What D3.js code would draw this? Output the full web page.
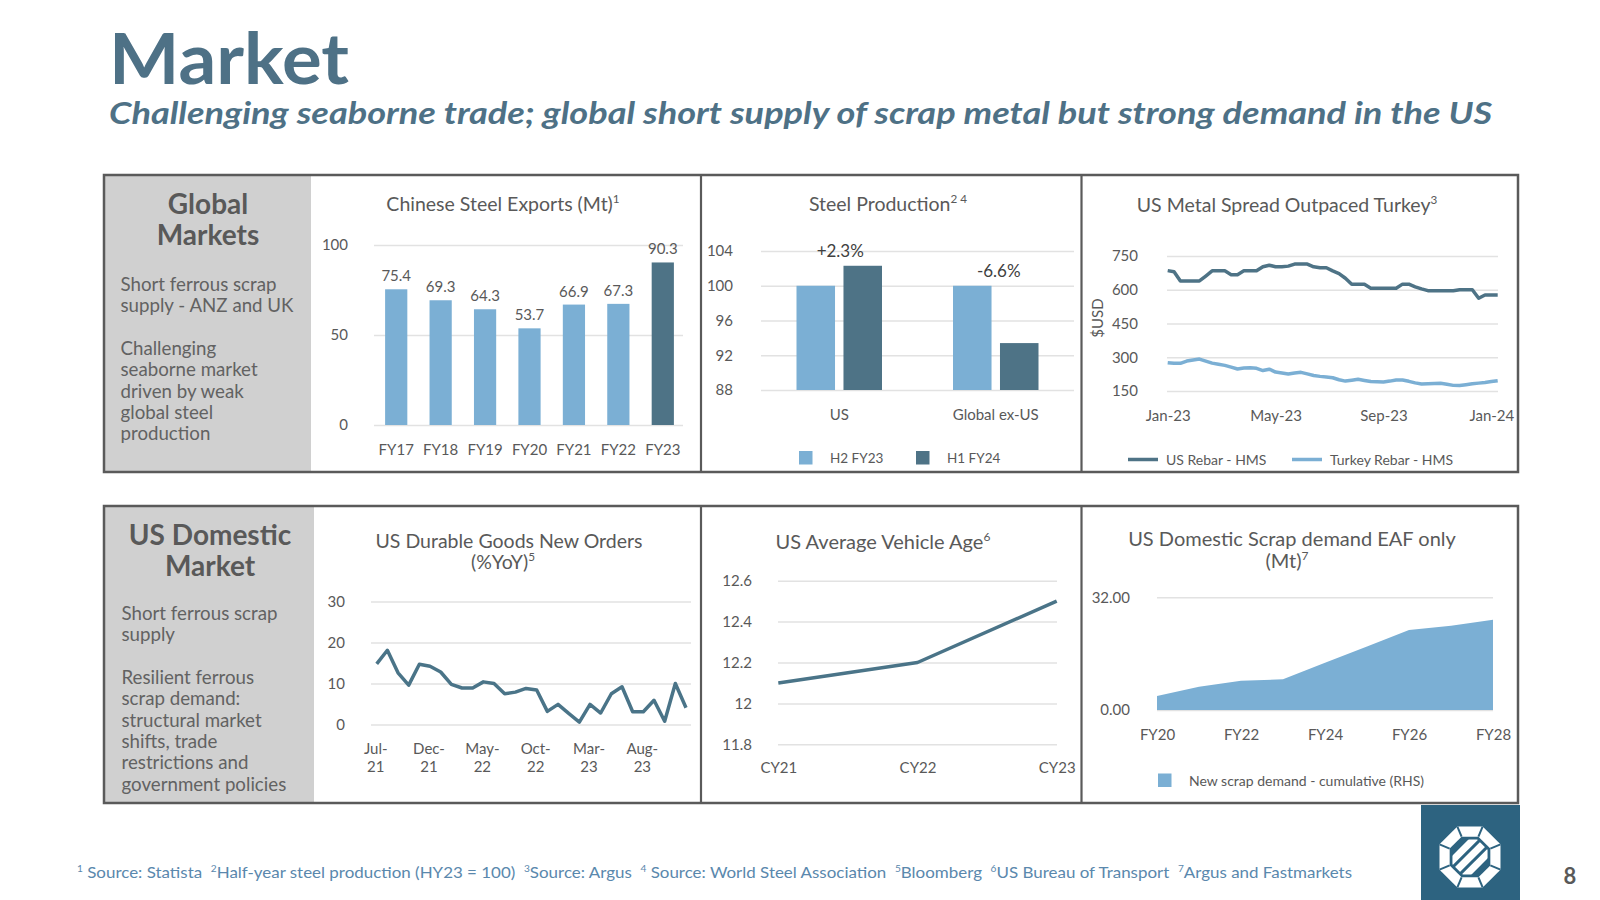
<!DOCTYPE html>
<html><head><meta charset="utf-8">
<script src="https://cdn.jsdelivr.net/npm/d3@7"></script>
<style>
body{margin:0;background:#fff;}
svg{display:block;font-family:Lato,'Open Sans',sans-serif;}
</style></head><body>
<svg id="c" width="1600" height="900"></svg>
<script>
// ---------------- DATA ----------------
const exportYears = ["FY17","FY18","FY19","FY20","FY21","FY22","FY23"];
const exportValues = [75.4,69.3,64.3,53.7,66.9,67.3,90.3];
const exportTicks = [0,50,100];

const prodCategories = ["US","Global ex-US"];
const prodSeries = ["H2 FY23","H1 FY24"];
const prodH2FY23 = [100,100];
const prodH1FY24 = [102.3,93.4];
const prodChange = ["+2.3%","-6.6%"];
const prodTicks = [88,92,96,100,104];

const spreadUS = [685,680,639,639,639,639,661,684,684,684,667,667,684,684,684,702,709,702,702,705,714,714,714,702,698,698,684,672,651,624,624,624,607,607,607,607,607,625,625,613,604,596,596,596,596,596,600,600,600,562,577,577,577];
const spreadTurkey = [276,273,273,283,288,292,283,274,269,264,256,248,252,253,251,241,247,234,230,226,230,233,226,219,215,212,209,200,194,198,202,197,192,191,190,194,199,199,193,186,181,182,183,184,180,175,174,178,182,185,188,192,196];
const spreadTickLabels = ["Jan-23","May-23","Sep-23","Jan-24"];
const spreadTickWeeks = [0,17,34,51];
const spreadTicks = [150,300,450,600,750];
const spreadSeries = ["US Rebar - HMS","Turkey Rebar - HMS"];

const durableMonths = ["Jul-21","Aug-21","Sep-21","Oct-21","Nov-21","Dec-21","Jan-22","Feb-22","Mar-22","Apr-22","May-22","Jun-22","Jul-22","Aug-22","Sep-22","Oct-22","Nov-22","Dec-22","Jan-23","Feb-23","Mar-23","Apr-23","May-23","Jun-23","Jul-23","Aug-23","Sep-23","Oct-23","Nov-23","Dec-23"];
const durableValues = [14.8,18.1,12.6,9.6,14.7,14.2,12.8,9.8,8.9,8.9,10.4,10.0,7.5,7.9,8.8,8.4,3.2,4.9,2.7,0.6,4.9,2.8,7.5,9.2,3.1,3.1,5.9,0.8,10.0,4.1];
const durableTickMonths = ["Jul-21","Dec-21","May-22","Oct-22","Mar-23","Aug-23"];
const durableTicks = [0,10,20,30];

const vehicleYears = ["CY21","CY22","CY23"];
const vehicleAge = [12.1,12.2,12.5];
const vehicleTicks = [11.8,12,12.2,12.4,12.6];

const scrapYears = ["FY20","FY21","FY22","FY23","FY24","FY25","FY26","FY27","FY28"];
const scrapDemand = [4.0,6.6,8.3,8.7,13.4,18.0,22.7,23.9,25.6];
const scrapTickYears = ["FY20","FY22","FY24","FY26","FY28"];
const scrapTicks = [0,32];
const scrapSeries = "New scrap demand - cumulative (RHS)";

const globalHeading = ["Global","Markets"];
const globalBody = [["Short ferrous scrap","supply - ANZ and UK"],["Challenging","seaborne market","driven by weak","global steel","production"]];
const usHeading = ["US Domestic","Market"];
const usBody = [["Short ferrous scrap","supply"],["Resilient ferrous","scrap demand:","structural market","shifts, trade","restrictions and","government policies"]];

const footnotes = [["1"," Source: Statista  "],["2","Half-year steel production (HY23 = 100)  "],["3","Source: Argus  "],["4"," Source: World Steel Association  "],["5","Bloomberg  "],["6","US Bureau of Transport  "],["7","Argus and Fastmarkets"]];

// ---------------- STYLE ----------------
const FONT = "Lato,'Open Sans',sans-serif";
const TXT = "#595959", GRID = "#e2e2e2", LIGHT = "#7bafd4", DARK = "#4e7386", LINEC = "#4a7488", BLUE = "#4e7186";
const TITLE_SIZE = 19.5;
const svg = d3.select("#c");

function rich(sel, parts, size){
  let shift = 0;
  parts.forEach(p=>{
    const sup = typeof p !== "string";
    const ts = sel.append("tspan").text(sup ? p.s : p);
    const target = sup ? -size*0.4 : 0;
    if (target !== shift){ ts.attr("dy", target - shift); shift = target; }
    if (sup) ts.attr("font-size", size*0.6);
  });
}
function title(x, y, parts, size=TITLE_SIZE){
  const t = svg.append("text").attr("x",x).attr("y",y).attr("text-anchor","middle")
    .attr("font-size",size).attr("fill",TXT);
  rich(t, parts, size);
}
function yGrid(scale, ticks, x0, x1, labelRight, fmt){
  const g = svg.append("g").attr("transform",`translate(${x0},0)`)
    .call(d3.axisLeft(scale).tickValues(ticks).tickSize(-(x1-x0)).tickPadding(x0-labelRight).tickFormat(fmt));
  g.select(".domain").remove();
  g.selectAll("line").attr("stroke",GRID).attr("stroke-width",1.5);
  g.selectAll("text").attr("fill",TXT).attr("font-size",15).attr("font-family",FONT);
  return g;
}
function xAxis(scale, y, baseline, tickValues, fmt){
  const ax = d3.axisBottom(scale).tickSize(0).tickPadding(baseline - y - 10.65);
  if (tickValues) ax.tickValues(tickValues);
  if (fmt) ax.tickFormat(fmt);
  const g = svg.append("g").attr("transform",`translate(0,${y})`).call(ax);
  g.select(".domain").remove();
  g.selectAll("text").attr("fill",TXT).attr("font-size",15).attr("font-family",FONT);
  return g;
}

// ---------------- HEADER ----------------
svg.append("text").attr("x",109).attr("y",84).attr("font-size",71).attr("font-weight",700)
  .attr("fill",BLUE).attr("textLength",240).attr("lengthAdjust","spacingAndGlyphs").text("Market");
svg.append("text").attr("x",109).attr("y",124).attr("font-size",31).attr("font-weight",700)
  .attr("font-style","italic").attr("fill",BLUE).attr("textLength",1383).attr("lengthAdjust","spacingAndGlyphs")
  .text("Challenging seaborne trade; global short supply of scrap metal but strong demand in the US");

// ---------------- PANELS ----------------
svg.append("rect").attr("x",104).attr("y",175).attr("width",207).attr("height",297).attr("fill","#d0d0d0");
svg.append("rect").attr("x",104).attr("y",506).attr("width",210).attr("height",297).attr("fill","#d0d0d0");
[[175,472],[506,803]].forEach(([t,b])=>{
  svg.append("rect").attr("x",104).attr("y",t).attr("width",1414).attr("height",b-t)
    .attr("fill","none").attr("stroke","#5a5a5a").attr("stroke-width",2.5);
  [701,1081.5].forEach(x=>svg.append("line").attr("x1",x).attr("x2",x).attr("y1",t).attr("y2",b)
    .attr("stroke","#5a5a5a").attr("stroke-width",2.2));
});

function sideText(heading, body, cx, hy, bx, by){
  heading.forEach((h,i)=>svg.append("text").attr("x",cx).attr("y",hy+i*31.5).attr("text-anchor","middle")
    .attr("font-size",28).attr("font-weight",700).attr("fill",TXT).text(h));
  let y = by;
  body.forEach(par=>{
    par.forEach(line=>{
      svg.append("text").attr("x",bx).attr("y",y).attr("font-size",18.7).attr("fill","#626262").text(line);
      y += 21.35;
    });
    y += 21.35;
  });
}
sideText(globalHeading, globalBody, 208, 213.5, 120.5, 291);
sideText(usHeading, usBody, 210, 544.5, 121.5, 620);

// ---------------- CHART 1: Chinese Steel Exports ----------------
title(503, 211, ["Chinese Steel Exports (Mt)", {s:"1"}]);
const x1 = d3.scaleBand().domain(exportYears).range([374,685]).paddingInner(0.5).paddingOuter(0.25);
const y1 = d3.scaleLinear().domain([0,100]).range([425,245]);
yGrid(y1, exportTicks, 374, 683, 348, d3.format("d"));
svg.append("g").selectAll("rect").data(exportValues).join("rect")
  .attr("x",(d,i)=>x1(exportYears[i])).attr("width",x1.bandwidth())
  .attr("y",d=>y1(d)).attr("height",d=>y1(0)-y1(d))
  .attr("fill",(d,i)=>i===exportValues.length-1?DARK:LIGHT);
svg.append("g").selectAll("text").data(exportValues).join("text")
  .attr("x",(d,i)=>x1(exportYears[i])+x1.bandwidth()/2).attr("y",d=>y1(d)-8)
  .attr("text-anchor","middle").attr("font-size",15).attr("fill",TXT).text(d=>d.toFixed(1));
xAxis(x1, 425, 455);

// ---------------- CHART 2: Steel Production ----------------
title(888, 211, ["Steel Production", {s:"2 4"}]);
const x20 = d3.scaleBand().domain(prodCategories).range([761,1074]);
const x21 = d3.scaleBand().domain(prodSeries).range([35.5,121]).paddingInner(0.18);
const y2 = d3.scaleLinear().domain([88,104]).range([390,251]);
yGrid(y2, prodTicks, 761, 1074, 733, d3.format("d"));
const prodData = [prodH2FY23, prodH1FY24];
prodSeries.forEach((s,si)=>{
  svg.append("g").selectAll("rect").data(prodData[si]).join("rect")
    .attr("x",(d,i)=>x20(prodCategories[i])+x21(s)).attr("width",x21.bandwidth())
    .attr("y",d=>y2(d)).attr("height",d=>y2(88)-y2(d))
    .attr("fill",si===0?LIGHT:DARK);
});
svg.append("g").selectAll("text").data(prodChange).join("text")
  .attr("x",(d,i)=>x20(prodCategories[i])+x20.bandwidth()/2+(i?3:1))
  .attr("y",(d,i)=>y2(Math.max(prodH2FY23[i],prodH1FY24[i]))-9)
  .attr("text-anchor","middle").attr("font-size",17).attr("fill","#404040").text(d=>d);
xAxis(x20, 390, 420);
const legX2 = [799,916];
prodSeries.forEach((s,i)=>{
  svg.append("rect").attr("x",legX2[i]).attr("y",451).attr("width",13.5).attr("height",13.5).attr("fill",i?DARK:LIGHT);
  svg.append("text").attr("x",legX2[i]+31).attr("y",463).attr("font-size",13.5).attr("fill",TXT).text(s);
});

// ---------------- CHART 3: US Metal Spread ----------------
title(1287, 212, ["US Metal Spread Outpaced Turkey", {s:"3"}]);
const weeks = d3.range(spreadUS.length);
const x3 = d3.scalePoint().domain(weeks).range([1167.7,1497.7]);
const y3 = d3.scaleLinear().domain([150,750]).range([391,256]);
yGrid(y3, spreadTicks, 1167, 1498, 1138, d3.format("d"));
const line3 = d3.line().x((d,i)=>x3(i)).y(d=>y3(d));
[[spreadUS,DARK],[spreadTurkey,LIGHT]].forEach(([arr,c])=>{
  svg.append("path").datum(arr).attr("d",line3).attr("fill","none").attr("stroke",c)
    .attr("stroke-width",3.5).attr("stroke-linejoin","round");
});
xAxis(x3, 391, 421, spreadTickWeeks, w=>spreadTickLabels[spreadTickWeeks.indexOf(w)]);
svg.append("text").attr("transform","translate(1103,318) rotate(-90)").attr("text-anchor","middle")
  .attr("font-size",15).attr("fill",TXT).text("$USD");
const legX3 = [1128,1292];
spreadSeries.forEach((s,i)=>{
  svg.append("line").attr("x1",legX3[i]).attr("x2",legX3[i]+30).attr("y1",459.5).attr("y2",459.5)
    .attr("stroke",i?LIGHT:DARK).attr("stroke-width",3.5);
  svg.append("text").attr("x",legX3[i]+38).attr("y",464.5).attr("font-size",14).attr("fill",TXT).text(s);
});

// ---------------- CHART 4: US Durable Goods ----------------
title(509, 548, ["US Durable Goods New Orders"]);
title(503, 569, ["(%YoY)", {s:"5"}]);
const x4 = d3.scalePoint().domain(durableMonths).range([376.7,686]);
const y4 = d3.scaleLinear().domain([0,30]).range([724.5,601.5]);
yGrid(y4, durableTicks, 371, 691, 345, d3.format("d"));
svg.append("path").datum(durableValues)
  .attr("d", d3.line().x((d,i)=>x4(durableMonths[i])).y(d=>y4(d)))
  .attr("fill","none").attr("stroke",LINEC).attr("stroke-width",3.5).attr("stroke-linejoin","round");
const g4 = xAxis(x4, 724.5, 754, durableTickMonths);
g4.selectAll("text").each(function(d){
  const t = d3.select(this); const parts = d.split("-");
  t.text(null).attr("dy",null).attr("y",null);
  t.append("tspan").attr("x",-1.5).attr("y",754-724.5).text(parts[0]+"-");
  t.append("tspan").attr("x",-1.5).attr("y",772-724.5).text(parts[1]);
});

// ---------------- CHART 5: Vehicle age ----------------
title(883, 549, ["US Average Vehicle Age", {s:"6"}], 20);
const x5 = d3.scalePoint().domain(vehicleYears).range([778.3,1056.7]);
const y5 = d3.scaleLinear().domain([11.8,12.6]).range([744.3,580.7]);
yGrid(y5, vehicleTicks, 778, 1057, 752, d=>String(+d.toFixed(1)));
svg.append("path").datum(vehicleAge)
  .attr("d", d3.line().x((d,i)=>x5(vehicleYears[i])).y(d=>y5(d)))
  .attr("fill","none").attr("stroke",LINEC).attr("stroke-width",3.5).attr("stroke-linejoin","round");
xAxis(x5, 744.3, 773.3);

// ---------------- CHART 6: Scrap demand ----------------
title(1292, 546, ["US Domestic Scrap demand EAF only"], 20);
title(1287, 568, ["(Mt)", {s:"7"}], 20);
const x6 = d3.scalePoint().domain(scrapYears).range([1157,1493]);
const y6 = d3.scaleLinear().domain([0,32]).range([710,597.3]);
yGrid(y6, scrapTicks, 1157, 1493, 1130, d3.format(".2f"));
svg.append("path").datum(scrapDemand)
  .attr("d", d3.area().x((d,i)=>x6(scrapYears[i])).y0(y6(0)).y1(d=>y6(d)))
  .attr("fill",LIGHT);
xAxis(x6, 710, 740, scrapTickYears);
svg.append("rect").attr("x",1158).attr("y",773.5).attr("width",13.5).attr("height",13.5).attr("fill",LIGHT);
svg.append("text").attr("x",1189).attr("y",786).attr("font-size",14).attr("fill",TXT).text(scrapSeries);

// ---------------- FOOTNOTE ----------------
const fn = svg.append("text").attr("x",77).attr("y",878).attr("font-size",16).attr("fill","#5a88ad")
  .attr("xml:space","preserve").style("white-space","pre")
  .attr("textLength",1275).attr("lengthAdjust","spacingAndGlyphs");
const fparts = [];
footnotes.forEach(([n,t])=>{ fparts.push({s:n}); fparts.push(t); });
rich(fn, fparts, 16);

// ---------------- LOGO ----------------
const LOGO = "#2d6380";
svg.append("rect").attr("x",1421).attr("y",805).attr("width",99).attr("height",95).attr("fill",LOGO);
const lcx = 1470, lcy = 857;
const oct = r => d3.range(8).map(i=>{const a=(i*45+22.5)*Math.PI/180; return [lcx+r*Math.cos(a), lcy+r*Math.sin(a)];});
const oO = oct(33), oI = oct(22);
svg.append("polygon").attr("points",oO.map(p=>p.join(",")).join(" ")).attr("fill","#fff");
svg.append("polygon").attr("points",oI.map(p=>p.join(",")).join(" ")).attr("fill",LOGO);
oO.forEach((p,i)=>svg.append("line").attr("x1",p[0]).attr("y1",p[1]).attr("x2",oI[i][0]).attr("y2",oI[i][1])
  .attr("stroke",LOGO).attr("stroke-width",2));
const defs = svg.append("defs");
defs.append("clipPath").attr("id","lgclip").append("polygon").attr("points",oct(19).map(p=>p.join(",")).join(" "));
const lgs = svg.append("g").attr("clip-path","url(#lgclip)");
[-10,0,10].forEach(o=>lgs.append("rect").attr("x",lcx-40).attr("y",lcy+o-3.5).attr("width",80).attr("height",7)
  .attr("fill","#fff").attr("transform",`rotate(-45,${lcx},${lcy})`));
svg.append("text").attr("x",1570).attr("y",884).attr("text-anchor","middle").attr("font-size",22)
  .attr("font-weight",700).attr("fill",TXT).text("8");
</script></body></html>
